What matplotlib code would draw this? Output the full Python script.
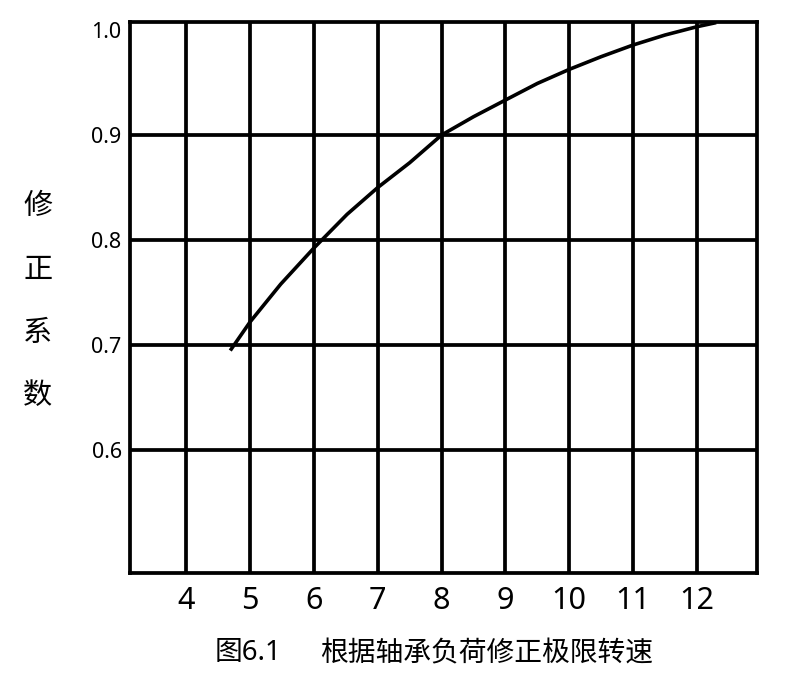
import numpy as np
import matplotlib
matplotlib.use('Agg')
import matplotlib.pyplot as plt

plt.rcParams['font.family'] = ['Noto Sans', 'Noto Sans CJK SC', 'DejaVu Sans']

# ========== DATA ==========
speed = [4.69, 5.0, 5.48, 6.0, 6.52, 7.0, 7.5, 8.0, 8.5, 9.0, 9.5, 10.0, 10.5, 11.0, 11.5, 12.0, 12.3]
factor = [0.6948, 0.722, 0.758, 0.7924, 0.8245, 0.850, 0.8736, 0.900, 0.9174, 0.9333, 0.9491,
          0.9625, 0.9746, 0.9857, 0.9952, 1.0031, 1.007]

x_ticks = [4, 5, 6, 7, 8, 9, 10, 11, 12]
y_grid = [0.6, 0.7, 0.8, 0.9]
y_ticks = [0.6, 0.7, 0.8, 0.9, 1.0]
ylabel_chars = ['修', '正', '系', '数']
fig_no = '图6.1'
caption = '根据轴承负荷修正极限转速'

# ========== PLOT ==========
fig = plt.figure(figsize=(8, 7), dpi=100)
ax = fig.add_axes([0.1625, 0.1814, 0.7838, 0.7872])

lw = 2.7
for xv in x_ticks:
    ax.axvline(xv, color='black', lw=lw, zorder=1)
for yv in y_grid:
    ax.axhline(yv, color='black', lw=lw, zorder=1)

ax.plot(speed, factor, color='black', lw=2.6, zorder=3, solid_capstyle='butt')

ax.set_xlim(3.12, 12.94)
ax.set_ylim(0.483, 1.0076)

ax.set_xticks(x_ticks)
ax.set_xticklabels([str(v) for v in x_ticks], fontsize=22)
ax.set_yticks(y_ticks)
ax.set_yticklabels([f'{v:.1f}' for v in y_ticks], fontsize=15.5)
ax.tick_params(axis='both', length=0)
ax.tick_params(axis='x', pad=9)
ax.tick_params(axis='y', pad=6)

for s in ax.spines.values():
    s.set_linewidth(lw)
    s.set_color('black')
    s.set_capstyle('projecting')

ax.set_ylabel('\n'.join(ylabel_chars), rotation=0, fontsize=21, linespacing=2.45,
              va='center', ha='center', family=['Noto Sans CJK SC', 'DejaVu Sans'])
ax.yaxis.set_label_coords(-0.147, 0.493)

fig.text(215 / 800, 1 - 653 / 700, fig_no, fontsize=20, ha='left', va='center')
fig.text(320 / 800, 1 - 653 / 700, caption, fontsize=20, ha='left', va='center',
         family=['Noto Sans CJK SC', 'DejaVu Sans'])

fig.savefig('out.png', dpi=100, facecolor='white')
